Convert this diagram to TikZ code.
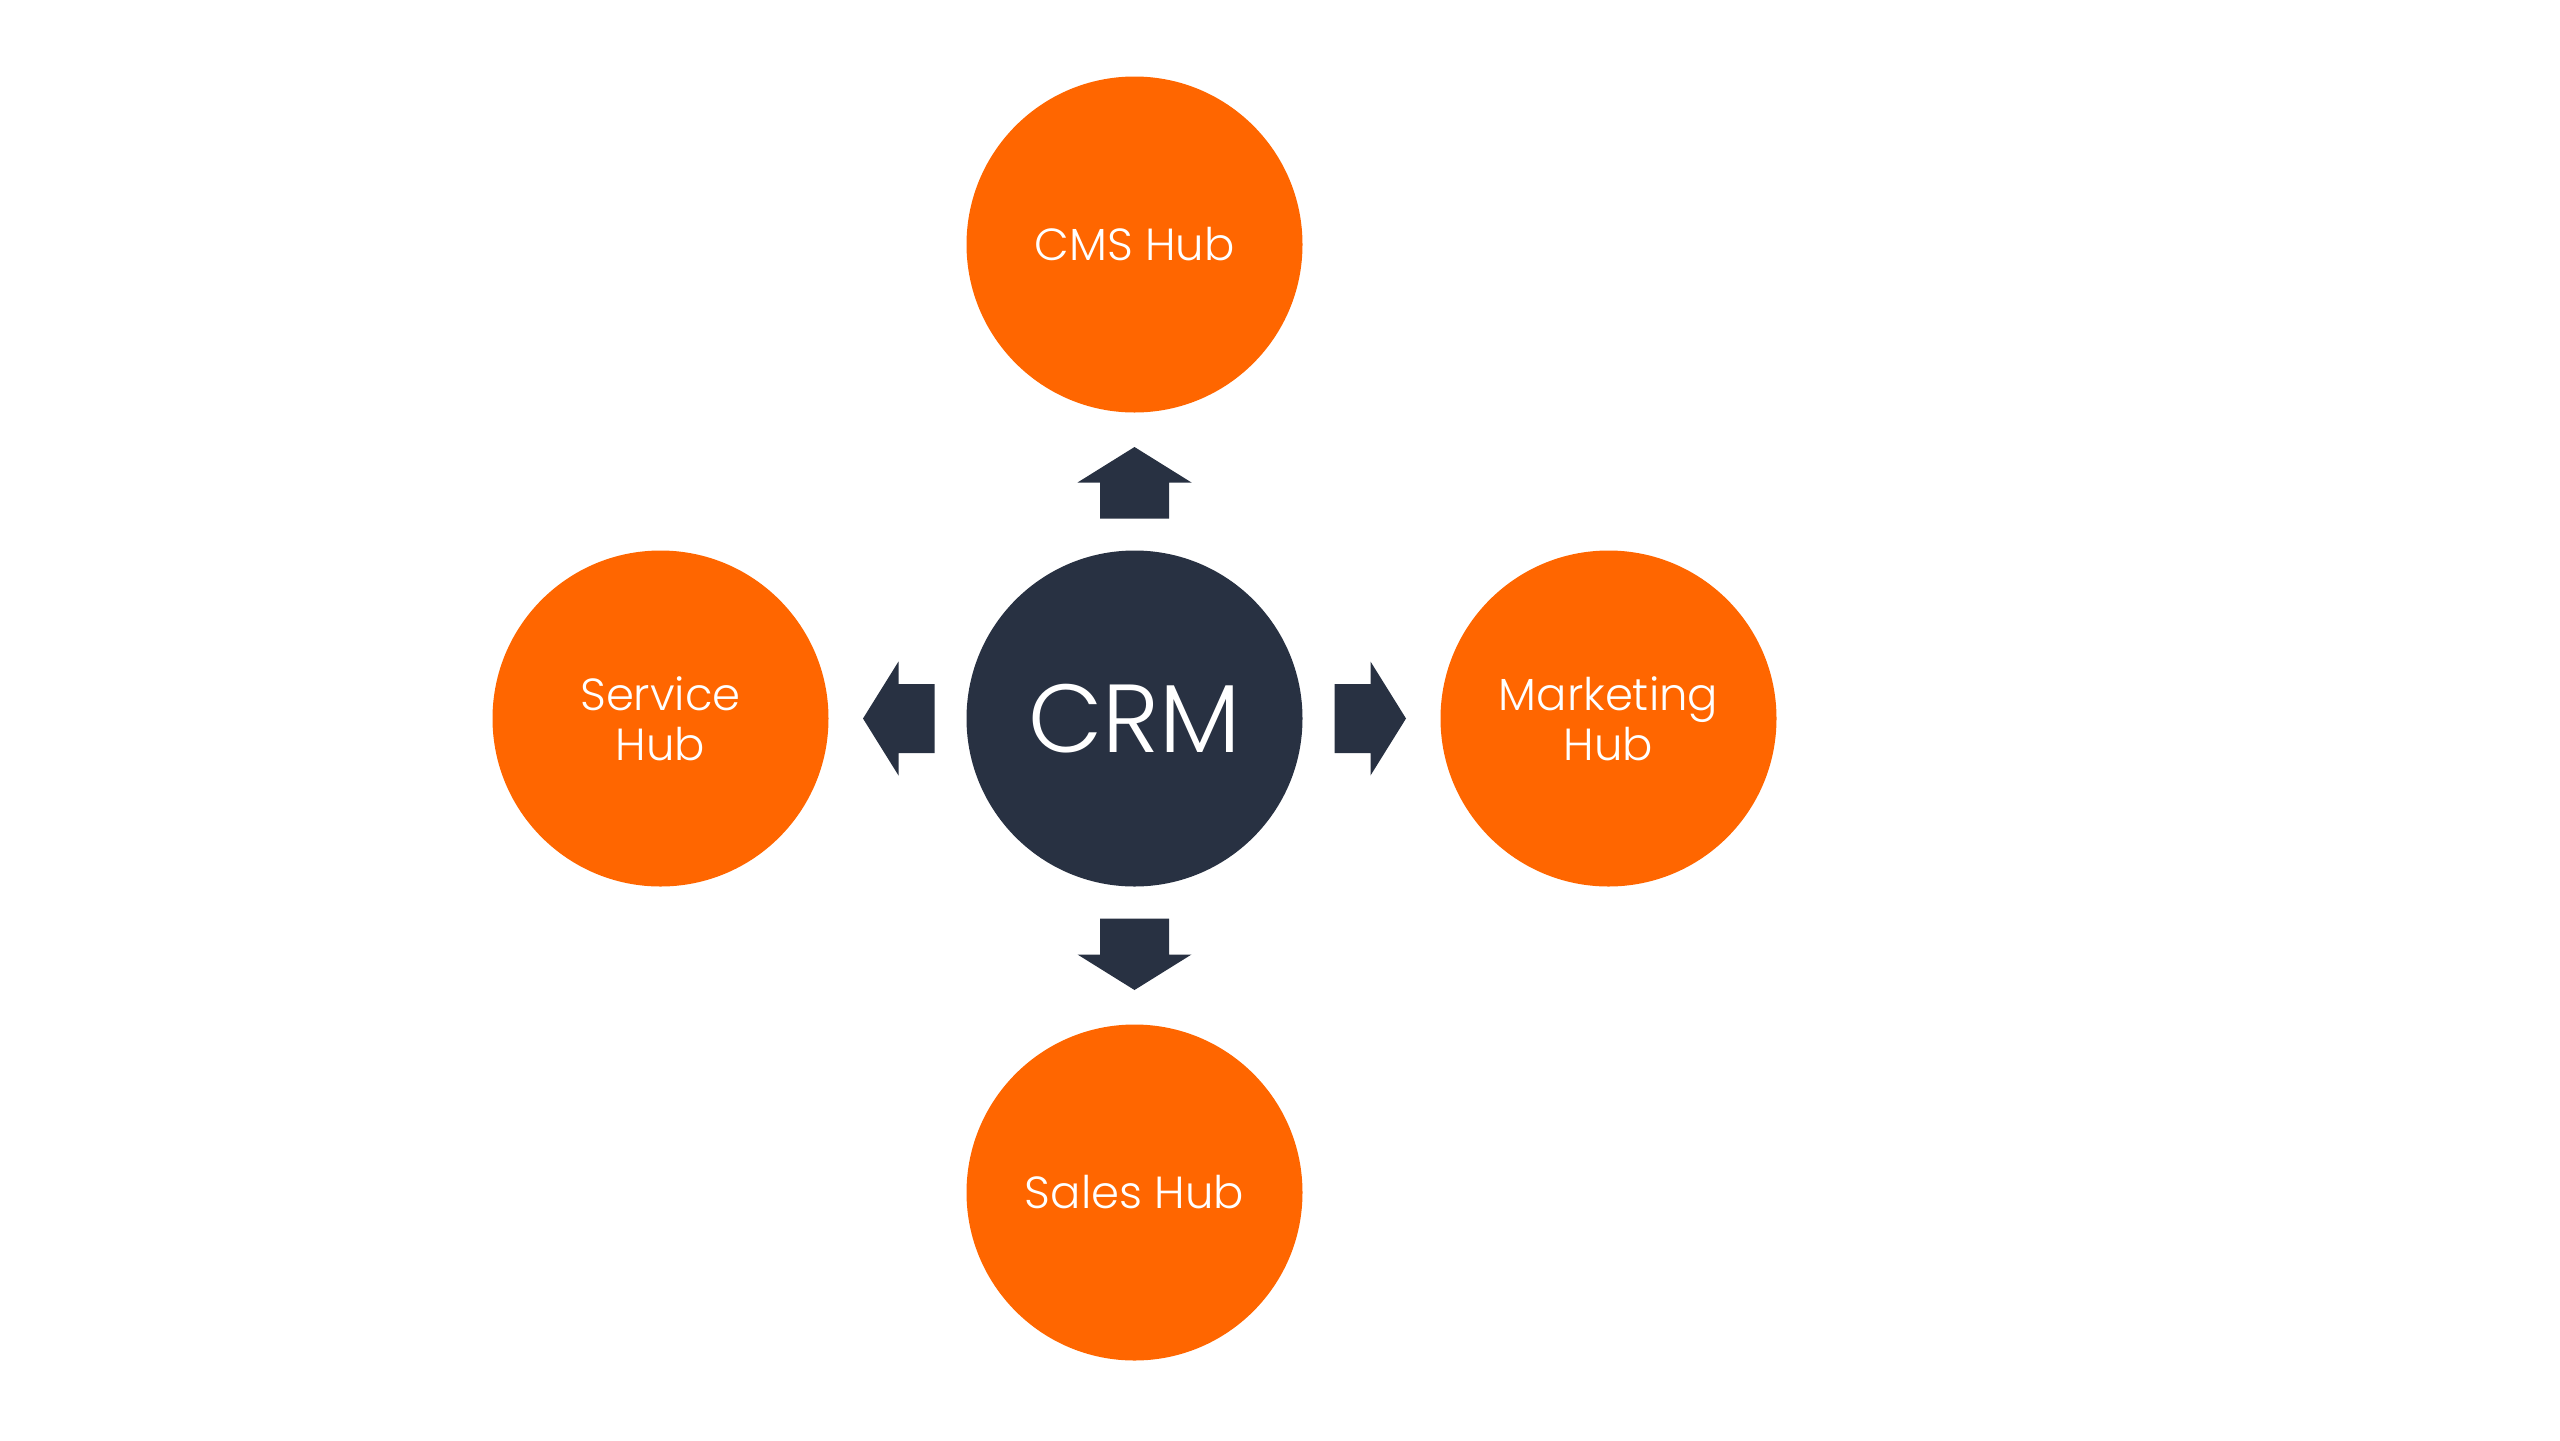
\documentclass[tikz,border=0pt]{standalone}
\usepackage{fontspec}
\setmainfont{Poppins Light}
\usepackage{tikz}
\definecolor{huborange}{HTML}{FF6600}
\definecolor{crmdark}{HTML}{283142}

\begin{document}
\begin{tikzpicture}[hub_node/.style={circle,fill=huborange,minimum size=3.36cm,inner sep=0,text=white,align=center,font=\fontsize{12.8}{14.2}\selectfont},
    core_node/.style={circle,fill=crmdark,minimum size=3.36cm,inner sep=0,text=white,font=\fontsize{27.5}{30}\selectfont},
    block_arrow/.pic={\fill[crmdark] (-0.36,-0.345) -- (0,-0.345) -- (0,-0.57) -- (0.355,0) -- (0,0.57) -- (0,0.345) -- (-0.36,0.345) -- cycle;}]
    \useasboundingbox (0,0) rectangle (25.6,-14.4);
    \node[core_node] (crm) at (11.345, -7.185) {CRM};
    \node[hub_node] (cms) at (11.345, -2.445) {CMS Hub};
    \node[hub_node] (service) at (6.605, -7.185) {Service\\Hub};
    \node[hub_node] (marketing) at (16.085, -7.185) {Marketing\\Hub};
    \node[hub_node] (sales) at (11.345, -11.925) {Sales Hub};
    \pic[rotate=90] at ([yshift=2.36cm]crm.center) {block_arrow};
    \pic[rotate=180] at ([xshift=-2.36cm]crm.center) {block_arrow};
    \pic at ([xshift=2.36cm]crm.center) {block_arrow};
    \pic[rotate=-90] at ([yshift=-2.36cm]crm.center) {block_arrow};
\end{tikzpicture}
\end{document}
